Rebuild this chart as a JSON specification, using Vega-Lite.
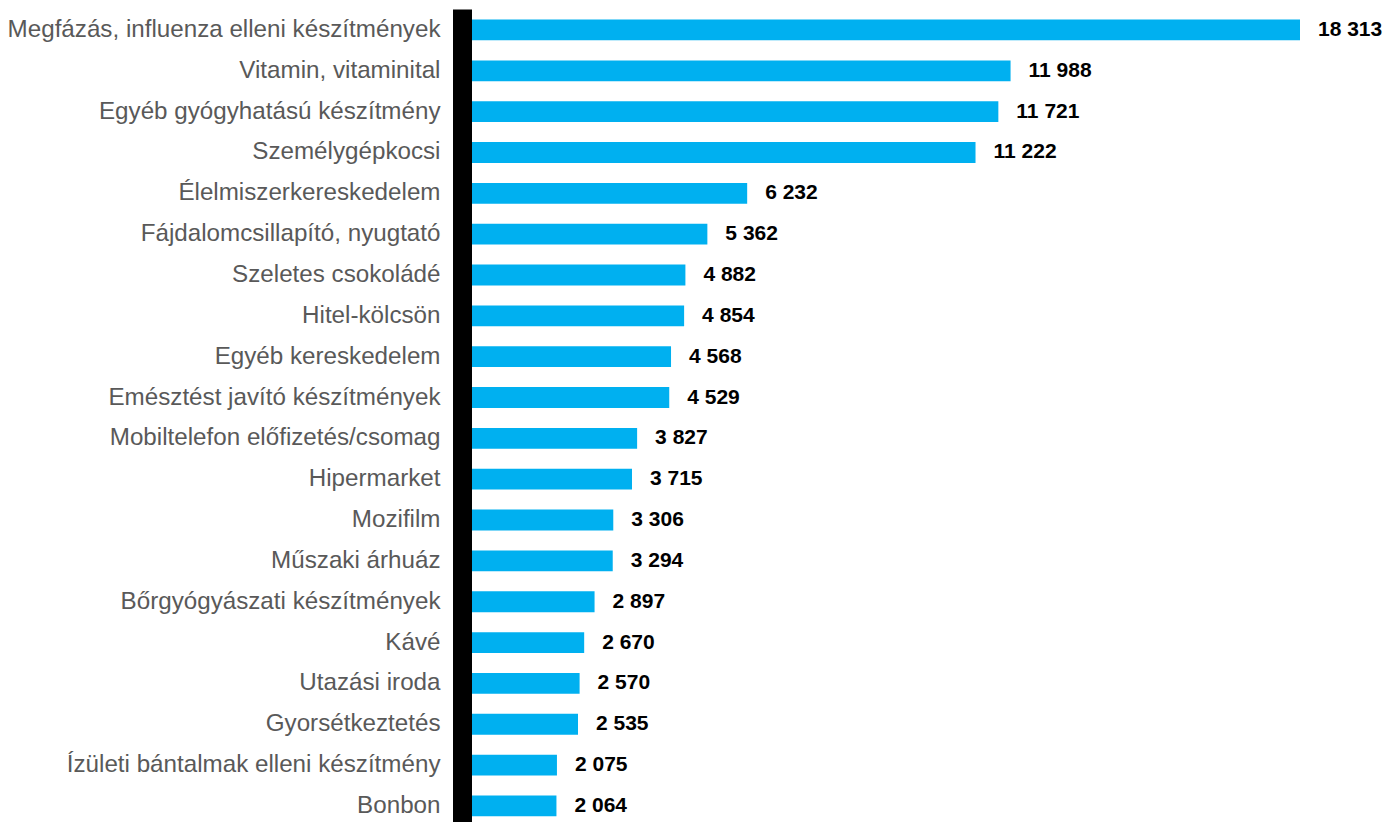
{
  "$schema": "https://vega.github.io/schema/vega-lite/v6.json",
  "autosize": {"type": "none"},
  "padding": {"left": 462, "top": 9, "right": 86, "bottom": 0},
  "width": 838,
  "height": 813,
  "background": "white",
  "config": {
    "view": {"stroke": null},
    "locale": {"number": {"decimal": ",", "thousands": " ", "grouping": [3], "currency": ["", " Ft"]}}
  },
  "data": {
    "values": [
      {"category": "Megfázás, influenza elleni készítmények", "value": 18313},
      {"category": "Vitamin, vitaminital", "value": 11988},
      {"category": "Egyéb gyógyhatású készítmény", "value": 11721},
      {"category": "Személygépkocsi", "value": 11222},
      {"category": "Élelmiszerkereskedelem", "value": 6232},
      {"category": "Fájdalomcsillapító, nyugtató", "value": 5362},
      {"category": "Szeletes csokoládé", "value": 4882},
      {"category": "Hitel-kölcsön", "value": 4854},
      {"category": "Egyéb kereskedelem", "value": 4568},
      {"category": "Emésztést javító készítmények", "value": 4529},
      {"category": "Mobiltelefon előfizetés/csomag", "value": 3827},
      {"category": "Hipermarket", "value": 3715},
      {"category": "Mozifilm", "value": 3306},
      {"category": "Műszaki árhuáz", "value": 3294},
      {"category": "Bőrgyógyászati készítmények", "value": 2897},
      {"category": "Kávé", "value": 2670},
      {"category": "Utazási iroda", "value": 2570},
      {"category": "Gyorsétkeztetés", "value": 2535},
      {"category": "Ízületi bántalmak elleni készítmény", "value": 2075},
      {"category": "Bonbon", "value": 2064}
    ]
  },
  "encoding": {
    "y": {
      "field": "category",
      "type": "nominal",
      "sort": null,
      "scale": {"paddingInner": 0.49, "paddingOuter": 0.1985, "align": 0.65},
      "axis": {
        "title": null,
        "zindex": 1,
        "domainColor": "#000000",
        "domainWidth": 19,
        "domainCap": "butt",
        "ticks": false,
        "tickSize": 0,
        "labelPadding": 22,
        "labelFont": "Liberation Sans",
        "labelFontSize": 24.2,
        "labelColor": "#595959",
        "labelLimit": 600
      }
    },
    "x": {
      "field": "value",
      "type": "quantitative",
      "scale": {"domain": [0, 18313], "nice": false, "zero": true},
      "axis": null
    }
  },
  "layer": [
    {"mark": {"type": "bar", "color": "#00B0F0"}},
    {
      "mark": {"type": "text", "align": "left", "baseline": "middle", "dx": 18, "font": "Liberation Sans", "fontWeight": "bold", "fontSize": 21, "color": "#000000"},
      "encoding": {"text": {"field": "value", "type": "quantitative", "format": ",d"}}
    }
  ]
}
